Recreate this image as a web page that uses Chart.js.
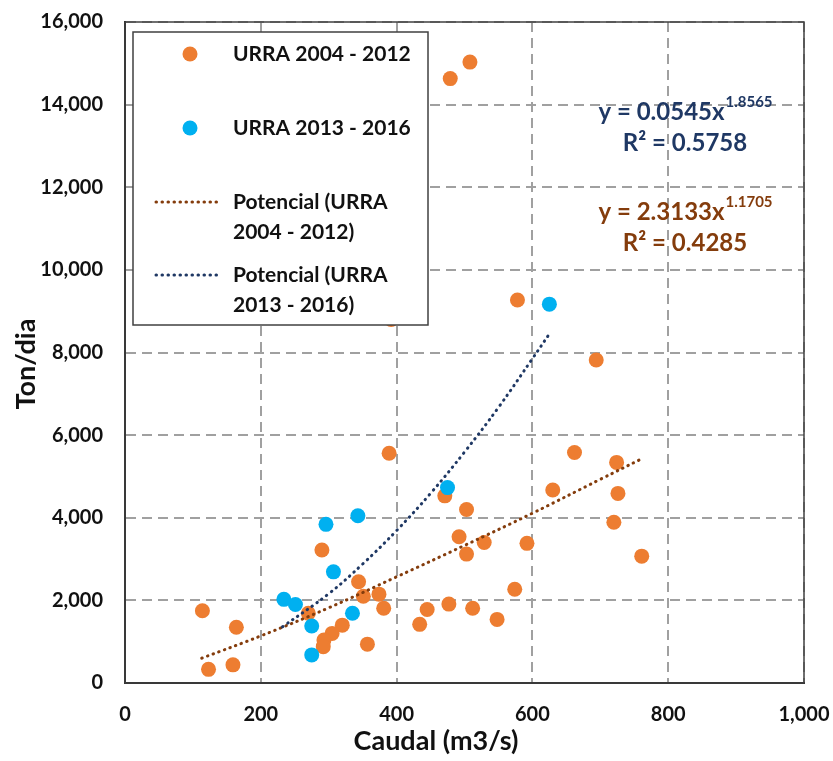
<!DOCTYPE html>
<html>
<head>
<meta charset="utf-8">
<script src="https://cdn.jsdelivr.net/npm/chart.js@4.4.0/dist/chart.umd.min.js"></script>
<style>
  html, body { margin: 0; padding: 0; background: #fff; }
  #wrap { width: 833px; height: 761px; }
</style>
</head>
<body>
<div id="wrap"><canvas id="myChart" width="833" height="761"></canvas></div>
<script>
// URRA 2004 - 2012 (caudal m3/s, ton/dia)
const urraOldX = [114, 164, 123, 159, 290, 344, 351, 374, 381, 270, 320, 305, 293, 292, 357, 389, 392,
  471, 503, 492, 503, 529, 592, 574, 434, 445, 477, 512, 548, 578, 694, 662, 724, 630, 726, 720, 761, 508, 479];
const urraOldY = [1750, 1350, 330, 440, 3220, 2450, 2100, 2150, 1810, 1690, 1400, 1200, 1040, 880, 940, 5560, 8800,
  4530, 4200, 3540, 3120, 3400, 3380, 2270, 1420, 1780, 1910, 1810, 1540, 9270, 7820, 5580, 5340, 4670, 4590, 3890, 3070, 15030, 14630];

// URRA 2013 - 2016
const urraNewX = [234, 251, 296, 343, 307, 335, 275, 275, 475, 625];
const urraNewY = [2025, 1900, 3840, 4050, 2690, 1690, 1380, 680, 4730, 9170];

// trend lines
const trendOldX = [113, 200, 300, 400, 500, 600, 700, 760];
const trendOldY = [600, 1140, 1820, 2570, 3330, 4110, 4930, 5420];
const trendNewX = [232, 300, 350, 400, 450, 500, 550, 600, 625];
const trendNewY = [1360, 2160, 2880, 3690, 4590, 5590, 6670, 7850, 8450];

const eqOld = ["y = 2.3133x", "1.1705", "R\u00b2 = 0.4285"];
const eqNew = ["y = 0.0545x", "1.8565", "R\u00b2 = 0.5758"];

const legendLabels = ["URRA 2004 - 2012", "URRA 2013 - 2016",
  ["Potencial (URRA", "2004 - 2012)"], ["Potencial (URRA", "2013 - 2016)"]];

const xTitle = 'Caudal (m3/s)';
const yTitle = 'Ton/dia';

const ORANGE = '#ED7D31';
const BLUE = '#00B0F0';
const DARK_ORANGE = '#843C0C';
const DARK_BLUE = '#1F3864';
const FONT = 'Lato, "Open Sans", sans-serif';

function pts(xs, ys) {
  return xs.map((x, i) => ({ x: x, y: ys[i] }));
}

// frame round the plot area + axis titles
const framePlugin = {
  id: 'frame',
  beforeDatasetsDraw(chart) {
    const a = chart.chartArea, ctx = chart.ctx;
    ctx.save();
    ctx.strokeStyle = '#404040';
    ctx.lineWidth = 1.5;
    ctx.strokeRect(a.left, a.top, a.right - a.left, a.bottom - a.top);
    ctx.restore();
  },
  afterDraw(chart) {
    const ctx = chart.ctx;
    ctx.save();
    ctx.fillStyle = '#111';
    ctx.font = 'bold 27px ' + FONT;
    ctx.textAlign = 'center';
    ctx.textBaseline = 'middle';
    ctx.fillText(xTitle, 436, 741);
    ctx.translate(26, 364);
    ctx.rotate(-Math.PI / 2);
    ctx.fillText(yTitle, 0, 0);
    ctx.restore();
  }
};

function drawDots(ctx, x1, x2, y, color) {
  ctx.save();
  ctx.strokeStyle = color;
  ctx.lineWidth = 3;
  ctx.lineCap = 'round';
  ctx.setLineDash([0.5, 5.5]);
  ctx.beginPath();
  ctx.moveTo(x1, y);
  ctx.lineTo(x2, y);
  ctx.stroke();
  ctx.restore();
}

function drawEquation(ctx, eq, cx, y, color) {
  ctx.save();
  ctx.fillStyle = color;
  ctx.textBaseline = 'middle';
  ctx.font = 'bold 24px ' + FONT;
  const w1 = ctx.measureText(eq[0]).width;
  ctx.font = 'bold 15px ' + FONT;
  const w2 = ctx.measureText(eq[1]).width;
  let x = cx - (w1 + w2) / 2;
  ctx.textAlign = 'left';
  ctx.font = 'bold 24px ' + FONT;
  ctx.fillText(eq[0], x, y);
  ctx.font = 'bold 15px ' + FONT;
  ctx.fillText(eq[1], x + w1 + 1, y - 10);
  ctx.font = 'bold 24px ' + FONT;
  ctx.textAlign = 'center';
  ctx.fillText(eq[2], cx, y + 31);
  ctx.restore();
}

// legend box inside the plot + trend equations
const legendPlugin = {
  id: 'boxLegend',
  afterDatasetsDraw(chart) {
    const ctx = chart.ctx;
    ctx.save();
    ctx.fillStyle = '#fff';
    ctx.fillRect(133, 32, 295, 293);
    ctx.strokeStyle = '#404040';
    ctx.lineWidth = 1.5;
    ctx.strokeRect(133, 32, 295, 293);

    ctx.fillStyle = ORANGE;
    ctx.beginPath(); ctx.arc(190, 54, 7.5, 0, Math.PI * 2); ctx.fill();
    ctx.fillStyle = BLUE;
    ctx.beginPath(); ctx.arc(190, 128, 7.5, 0, Math.PI * 2); ctx.fill();
    drawDots(ctx, 156, 220, 202, DARK_ORANGE);
    drawDots(ctx, 156, 220, 275, DARK_BLUE);

    ctx.fillStyle = '#111';
    ctx.font = 'bold 21px ' + FONT;
    ctx.textBaseline = 'middle';
    ctx.textAlign = 'left';
    ctx.fillText(legendLabels[0], 233, 54);
    ctx.fillText(legendLabels[1], 233, 128);
    ctx.fillText(legendLabels[2][0], 233, 202);
    ctx.fillText(legendLabels[2][1], 233, 232);
    ctx.fillText(legendLabels[3][0], 233, 275);
    ctx.fillText(legendLabels[3][1], 233, 305);
    ctx.restore();

    drawEquation(ctx, eqNew, 685, 112, DARK_BLUE);
    drawEquation(ctx, eqOld, 685, 212, DARK_ORANGE);
  }
};

function createChart() {
  const ctx = document.getElementById('myChart').getContext('2d');
  new Chart(ctx, {
    type: 'scatter',
    data: {
      datasets: [
        {
          label: 'URRA 2004 - 2012',
          data: pts(urraOldX, urraOldY),
          backgroundColor: ORANGE,
          borderWidth: 0,
          pointRadius: 7.5,
          order: 4
        },
        {
          label: 'URRA 2013 - 2016',
          data: pts(urraNewX, urraNewY),
          backgroundColor: BLUE,
          borderWidth: 0,
          pointRadius: 7.5,
          order: 3
        },
        {
          label: 'Potencial (URRA 2004 - 2012)',
          type: 'line',
          data: pts(trendOldX, trendOldY),
          borderColor: DARK_ORANGE,
          borderWidth: 3,
          borderDash: [0.5, 5.5],
          borderCapStyle: 'round',
          pointRadius: 0,
          tension: 0.4,
          fill: false,
          order: 2
        },
        {
          label: 'Potencial (URRA 2013 - 2016)',
          type: 'line',
          data: pts(trendNewX, trendNewY),
          borderColor: DARK_BLUE,
          borderWidth: 3,
          borderDash: [0.5, 5.5],
          borderCapStyle: 'round',
          pointRadius: 0,
          tension: 0.4,
          fill: false,
          order: 1
        }
      ]
    },
    options: {
      responsive: false,
      animation: false,
      layout: { padding: { top: 22, right: 29, left: 0, bottom: 0 } },
      plugins: {
        legend: { display: false },
        tooltip: { enabled: false }
      },
      scales: {
        x: {
          type: 'linear',
          min: 0,
          max: 1000,
          afterFit: (s) => { s.height = 78; s.paddingLeft = 0; s.paddingRight = 0; },
          ticks: {
            stepSize: 200,
            padding: 20,
            color: '#111',
            font: { family: FONT, size: 20, weight: 'bold' },
            callback: (v) => v.toLocaleString('en-US')
          },
          grid: {
            color: '#A0A0A0',
            lineWidth: 2,
            drawTicks: false
          },
          border: { display: true, color: '#262626', width: 2, dash: [10, 6] }
        },
        y: {
          type: 'linear',
          min: 0,
          max: 16000,
          afterFit: (s) => { s.width = 125; s.paddingTop = 0; s.paddingBottom = 0; },
          ticks: {
            stepSize: 2000,
            padding: 22,
            color: '#111',
            font: { family: FONT, size: 20, weight: 'bold' },
            callback: (v) => v.toLocaleString('en-US')
          },
          grid: {
            color: '#A0A0A0',
            lineWidth: 2,
            drawTicks: false
          },
          border: { display: true, color: '#262626', width: 2, dash: [10, 6] }
        }
      }
    },
    plugins: [framePlugin, legendPlugin]
  });
}

createChart();
</script>
</body>
</html>
